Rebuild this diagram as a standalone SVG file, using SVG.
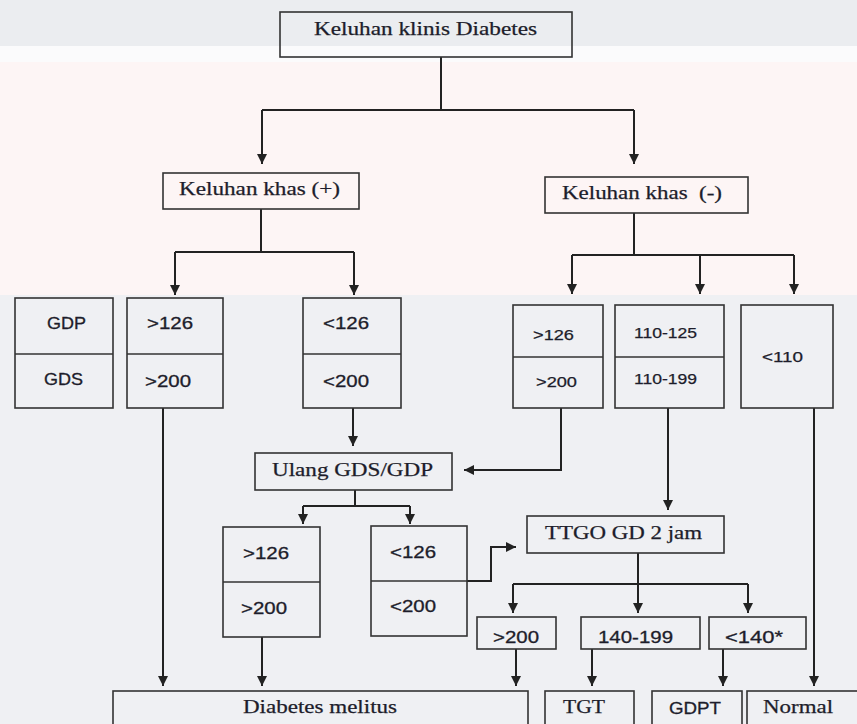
<svg xmlns="http://www.w3.org/2000/svg" width="857" height="724" viewBox="0 0 857 724">
<defs>
<marker id="ah" markerUnits="userSpaceOnUse" markerWidth="11" markerHeight="11" refX="10" refY="5.5" orient="auto">
<path d="M0,0.5 L10,5.5 L0,10.5 z" fill="#222"/>
</marker>
<style>
.bx{fill:none;stroke:#333;stroke-width:1.6}
.dv{stroke:#333;stroke-width:1.6}
.ln{fill:none;stroke:#222;stroke-width:2}
.ar{fill:none;stroke:#222;stroke-width:2;marker-end:url(#ah)}
.se{font-family:"Liberation Serif","Times New Roman",serif;font-size:18.5px;fill:#1d1d2b;stroke:#1d1d2b;stroke-width:0.25}
.sa{font-family:"Liberation Sans",Arial,sans-serif;font-size:16.5px;fill:#1d1d2b;stroke:#1d1d2b;stroke-width:0.3}
.ss{font-family:"Liberation Sans",Arial,sans-serif;font-size:14.5px;fill:#1d1d2b;stroke:#1d1d2b;stroke-width:0.25}
</style>
</defs>
<g id="background">
<rect x="0" y="0" width="857" height="724" fill="#eff0f3"/>
<rect x="0" y="0" width="857" height="46" fill="#ebedf0"/>
<rect x="0" y="46" width="857" height="16" fill="#fbfbfc"/>
<rect x="0" y="62" width="857" height="233" fill="#fdf5f5"/>
</g>
<g id="connectors">
<path class="ln" d="M441,57 V110 M262,110 H634"/>
<path class="ar" d="M262,110 V164"/>
<path class="ar" d="M634,110 V164"/>
<path class="ln" d="M261,209 V252 M175,252 H354"/>
<path class="ar" d="M175,252 V295"/>
<path class="ar" d="M354,252 V295"/>
<path class="ln" d="M634,213 V255 M572,255 H794"/>
<path class="ar" d="M572,255 V294"/>
<path class="ar" d="M700,255 V294"/>
<path class="ar" d="M794,255 V294"/>
<path class="ar" d="M163,408 V686"/>
<path class="ar" d="M353,408 V446"/>
<path class="ar" d="M561,408 V470 H464"/>
<path class="ar" d="M668,408 V510"/>
<path class="ar" d="M814,408 V686"/>
<path class="ln" d="M355,490 V506 M303,506 H410"/>
<path class="ar" d="M303,506 V524"/>
<path class="ar" d="M410,506 V524"/>
<path class="ar" d="M262,637 V686"/>
<path class="ar" d="M467,581 H491 V547 H516"/>
<path class="ln" d="M638,553 V584 M513,584 H748"/>
<path class="ar" d="M513,584 V613"/>
<path class="ar" d="M638,584 V613"/>
<path class="ar" d="M748,584 V613"/>
<path class="ar" d="M516,649 V686"/>
<path class="ar" d="M592,649 V686"/>
<path class="ar" d="M723,649 V686"/>
</g>
<g id="n-keluhan-klinis">
<rect class="bx" x="280" y="12" width="292" height="45"/>
<text class="se" x="314" y="35" textLength="223" lengthAdjust="spacingAndGlyphs">Keluhan klinis Diabetes</text>
</g>
<g id="n-khas-plus">
<rect class="bx" x="163" y="173" width="196" height="36"/>
<text class="se" x="179" y="195" textLength="161" lengthAdjust="spacingAndGlyphs">Keluhan khas (+)</text>
</g>
<g id="n-khas-minus">
<rect class="bx" x="545" y="177" width="203" height="36"/>
<text class="se" x="562" y="199" textLength="160" lengthAdjust="spacingAndGlyphs">Keluhan khas &#160;(-)</text>
</g>
<g id="n-gdp-gds">
<rect class="bx" x="15" y="298" width="98" height="110"/>
<line class="dv" x1="15" y1="354" x2="113" y2="354"/>
<text class="sa" x="47" y="329" textLength="39" lengthAdjust="spacingAndGlyphs">GDP</text>
<text class="sa" x="44" y="385" textLength="39" lengthAdjust="spacingAndGlyphs">GDS</text>
</g>
<g id="n-gt126-a">
<rect class="bx" x="127" y="298" width="96" height="110"/>
<line class="dv" x1="127" y1="354" x2="223" y2="354"/>
<text class="sa" x="147" y="329" textLength="46" lengthAdjust="spacingAndGlyphs">&gt;126</text>
<text class="sa" x="145" y="387" textLength="46" lengthAdjust="spacingAndGlyphs">&gt;200</text>
</g>
<g id="n-lt126-a">
<rect class="bx" x="303" y="298" width="98" height="110"/>
<line class="dv" x1="303" y1="354" x2="401" y2="354"/>
<text class="sa" x="323" y="329" textLength="46" lengthAdjust="spacingAndGlyphs">&lt;126</text>
<text class="sa" x="323" y="387" textLength="46" lengthAdjust="spacingAndGlyphs">&lt;200</text>
</g>
<g id="n-gt126-b">
<rect class="bx" x="513" y="305" width="90" height="103"/>
<line class="dv" x1="513" y1="357" x2="603" y2="357"/>
<text class="ss" x="533" y="340" textLength="41" lengthAdjust="spacingAndGlyphs">&gt;126</text>
<text class="ss" x="536" y="387" textLength="41" lengthAdjust="spacingAndGlyphs">&gt;200</text>
</g>
<g id="n-110-125">
<rect class="bx" x="615" y="305" width="109" height="103"/>
<line class="dv" x1="615" y1="357" x2="724" y2="357"/>
<text class="ss" x="634" y="338" textLength="63" lengthAdjust="spacingAndGlyphs">110-125</text>
<text class="ss" x="634" y="384" textLength="63" lengthAdjust="spacingAndGlyphs">110-199</text>
</g>
<g id="n-lt110">
<rect class="bx" x="741" y="305" width="92" height="103"/>
<text class="ss" x="762" y="362" textLength="41" lengthAdjust="spacingAndGlyphs">&lt;110</text>
</g>
<g id="n-ulang">
<rect class="bx" x="255" y="453" width="197" height="37"/>
<text class="se" x="272" y="476" textLength="161" lengthAdjust="spacingAndGlyphs">Ulang GDS/GDP</text>
</g>
<g id="n-gt126-c">
<rect class="bx" x="223" y="527" width="97" height="110"/>
<line class="dv" x1="223" y1="582" x2="320" y2="582"/>
<text class="sa" x="243" y="559" textLength="46" lengthAdjust="spacingAndGlyphs">&gt;126</text>
<text class="sa" x="241" y="614" textLength="46" lengthAdjust="spacingAndGlyphs">&gt;200</text>
</g>
<g id="n-lt126-c">
<rect class="bx" x="371" y="526" width="96" height="110"/>
<line class="dv" x1="371" y1="581" x2="467" y2="581"/>
<text class="sa" x="390" y="558" textLength="46" lengthAdjust="spacingAndGlyphs">&lt;126</text>
<text class="sa" x="390" y="612" textLength="46" lengthAdjust="spacingAndGlyphs">&lt;200</text>
</g>
<g id="n-ttgo">
<rect class="bx" x="527" y="516" width="197" height="37"/>
<text class="se" x="545" y="539" textLength="157" lengthAdjust="spacingAndGlyphs">TTGO GD 2 jam</text>
</g>
<g id="n-gt200">
<rect class="bx" x="477" y="617" width="79" height="32"/>
<text class="sa" x="493" y="643" textLength="46" lengthAdjust="spacingAndGlyphs">&gt;200</text>
</g>
<g id="n-140-199">
<rect class="bx" x="581" y="617" width="119" height="32"/>
<text class="sa" x="598" y="643" textLength="75" lengthAdjust="spacingAndGlyphs">140-199</text>
</g>
<g id="n-lt140">
<rect class="bx" x="709" y="617" width="97" height="32"/>
<text class="sa" x="725" y="643" textLength="58" lengthAdjust="spacingAndGlyphs">&lt;140*</text>
</g>
<g id="n-dm">
<rect class="bx" x="113" y="691" width="415" height="50"/>
<text class="se" x="243" y="713" textLength="154" lengthAdjust="spacingAndGlyphs">Diabetes melitus</text>
</g>
<g id="n-tgt">
<rect class="bx" x="545" y="691" width="89" height="50"/>
<text class="se" x="563" y="713" textLength="42" lengthAdjust="spacingAndGlyphs">TGT</text>
</g>
<g id="n-gdpt">
<rect class="bx" x="652" y="691" width="90" height="50"/>
<text class="sa" x="669" y="714" textLength="52" lengthAdjust="spacingAndGlyphs">GDPT</text>
</g>
<g id="n-normal">
<rect class="bx" x="747" y="691" width="120" height="50"/>
<text class="se" x="763" y="713" textLength="70" lengthAdjust="spacingAndGlyphs">Normal</text>
</g>
</svg>
